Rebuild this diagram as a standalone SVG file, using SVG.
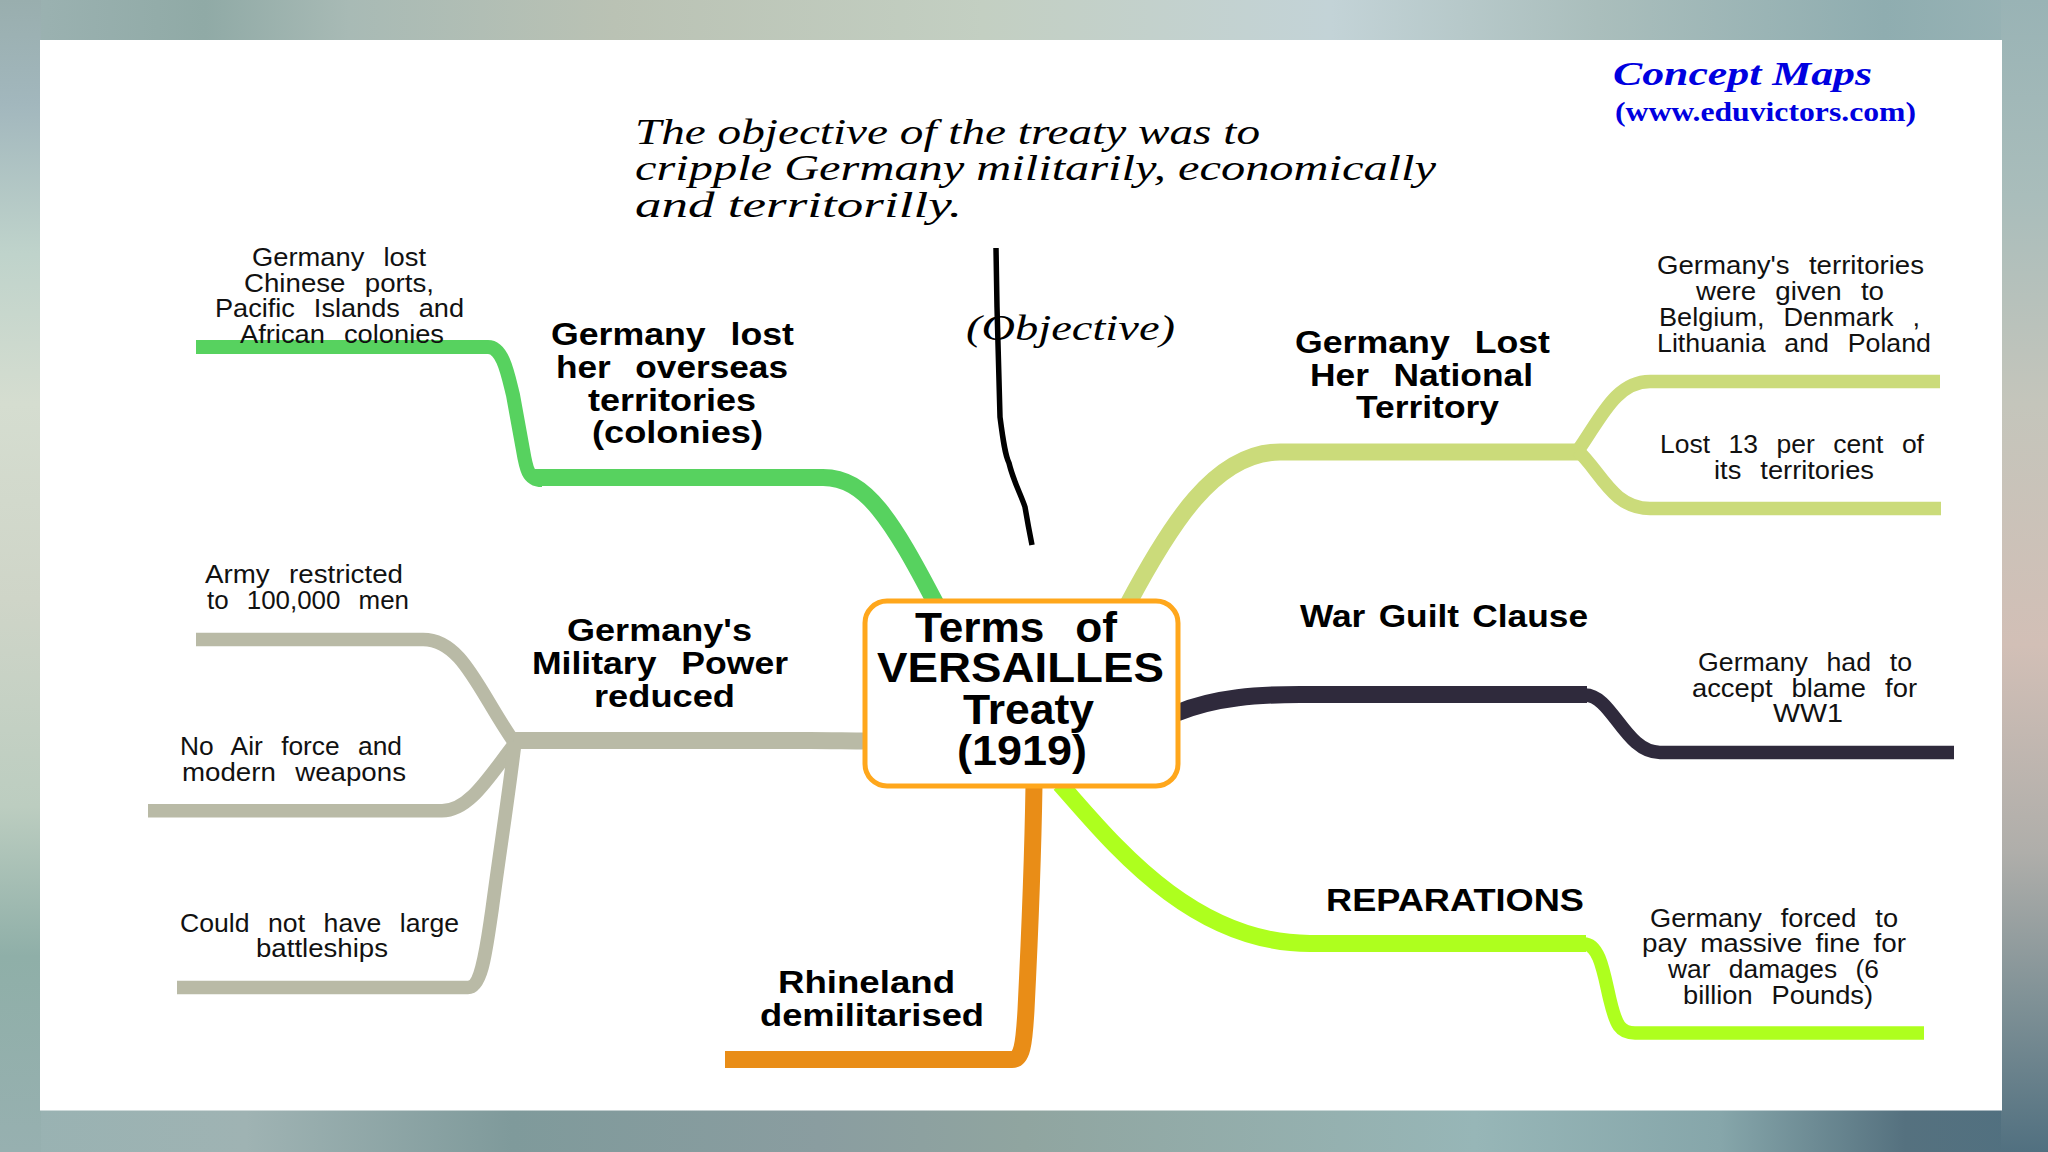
<svg xmlns="http://www.w3.org/2000/svg" width="2048" height="1152" viewBox="0 0 2048 1152">
<style>
text{fill:#111;font-family:"Liberation Sans",Arial,sans-serif;word-spacing:.42em}
.s{font-size:25px}
.m{font-size:32px;font-weight:700;fill:#000}
.c{font-size:43px;font-weight:700;fill:#000}
.h{font-family:"Liberation Serif","Times New Roman",serif;font-style:italic;font-size:36px;fill:#000;word-spacing:0}
.b{font-family:"Liberation Serif","Times New Roman",serif;fill:#0000e0;font-weight:700;word-spacing:0}
path{fill:none;stroke-linecap:butt}
.g{stroke:#57d25f}.l{stroke:#cbdb7a}.k{stroke:#b9baa6}.d{stroke:#2f2a3c}.r{stroke:#aeff1e}.o{stroke:#e98d17}
</style>
<defs>
<linearGradient id="bt" x1="0" x2="2048" y1="0" y2="0" gradientUnits="userSpaceOnUse"><stop offset="0" stop-color="#9db3b3"/><stop offset=".1" stop-color="#90aaa6"/><stop offset=".17" stop-color="#a8bab5"/><stop offset=".3" stop-color="#bac2b4"/><stop offset=".48" stop-color="#c3cfc2"/><stop offset=".65" stop-color="#c3d3d7"/><stop offset=".78" stop-color="#aabebc"/><stop offset=".92" stop-color="#8fadb0"/><stop offset="1" stop-color="#9ab4b6"/></linearGradient>
<linearGradient id="bb" x1="0" x2="2048" y1="0" y2="0" gradientUnits="userSpaceOnUse"><stop offset="0" stop-color="#98b2b2"/><stop offset=".12" stop-color="#9fb3b3"/><stop offset=".25" stop-color="#7f9a9b"/><stop offset=".4" stop-color="#8a9da0"/><stop offset=".5" stop-color="#90a5a0"/><stop offset=".72" stop-color="#97b6b7"/><stop offset=".84" stop-color="#86a6aa"/><stop offset=".93" stop-color="#55717f"/><stop offset="1" stop-color="#507080"/></linearGradient>
<linearGradient id="bl" x1="0" x2="0" y1="0" y2="1152" gradientUnits="userSpaceOnUse"><stop offset="0" stop-color="#99aeae"/><stop offset=".09" stop-color="#a2b7bd"/><stop offset=".22" stop-color="#bfd3cb"/><stop offset=".35" stop-color="#d5ddd0"/><stop offset=".52" stop-color="#cfd5c8"/><stop offset=".7" stop-color="#bccdc0"/><stop offset=".83" stop-color="#8fafa8"/><stop offset="1" stop-color="#97b0b0"/></linearGradient>
<linearGradient id="br" x1="0" x2="0" y1="0" y2="1152" gradientUnits="userSpaceOnUse"><stop offset="0" stop-color="#99b3b5"/><stop offset=".17" stop-color="#a9bdbb"/><stop offset=".35" stop-color="#c4c5bb"/><stop offset=".56" stop-color="#d2bfb6"/><stop offset=".74" stop-color="#afaeaa"/><stop offset=".87" stop-color="#7f9196"/><stop offset="1" stop-color="#517080"/></linearGradient>
</defs>
<g id="background">
<rect x="0" y="0" width="2048" height="41" fill="url(#bt)"/>
<rect x="0" y="1110" width="2048" height="42" fill="url(#bb)"/>
<rect x="0" y="0" width="41" height="1152" fill="url(#bl)"/>
<rect x="2001" y="0" width="47" height="1152" fill="url(#br)"/>
<rect x="40" y="40" width="1962" height="1070.500" fill="#fff"/>
</g>
<g id="connectors">
<path class="g" stroke-width="14" d="M196 347H488C503 347 508 375 513 395L523 450C526 468 528 480 542 480"/>
<path class="g" stroke-width="17" d="M535 477.500H823C866 477.500 892 520 936 604"/>
<path class="k" stroke-width="13.500" d="M196 639.500H423C462 639.500 478 690 514 742"/>
<path class="k" stroke-width="13.500" d="M148 810.700H442C470 810.700 490 775 516 742"/>
<path class="k" stroke-width="13.500" d="M177 987.500H468C482 987.500 486 950 492 910C500 850 508 800 515 742"/>
<path class="k" stroke-width="17" d="M514 740.500H810C830 740.500 850 741 866 741"/>
<path class="o" stroke-width="17" d="M725 1059.500H1012C1022 1059.500 1024 1045 1026 1010C1029 950 1033 850 1034 785"/>
<path class="l" stroke-width="17" d="M1128 604C1170 525 1215 452 1280 452H1580"/>
<path class="l" stroke-width="13.500" d="M1577 452C1600 420 1615 381.500 1650 381.500H1940"/>
<path class="l" stroke-width="13.500" d="M1577 450C1600 470 1612 508.500 1650 508.500H1941"/>
<path class="d" stroke-width="17" d="M1177 713C1215 697 1260 694.500 1300 694.500H1587"/>
<path class="d" stroke-width="13.500" d="M1585 695C1612 695 1625 752.500 1660 752.500H1954"/>
<path class="r" stroke-width="17" d="M1060 784C1110 840 1190 943.500 1310 943.500H1586"/>
<path class="r" stroke-width="13.500" d="M1584 944C1600 944 1604 975 1610 1000C1616 1025 1620 1033 1635 1033H1924"/>
<path id="pen-stroke" stroke="#000" stroke-width="5.500" stroke-linejoin="round" d="M996 248L997 307C998 350 999 390 1000 417C1003 440 1005 455 1009 463C1013 480 1021 495 1025 507C1028 525 1030 535 1032 545"/>
</g>
<g id="objective-note">
<text class="h" x="635" y="144" textLength="625" lengthAdjust="spacingAndGlyphs">The objective of the treaty was to</text>
<text class="h" x="635" y="180" textLength="801" lengthAdjust="spacingAndGlyphs">cripple Germany militarily, economically</text>
<text class="h" x="635" y="217" textLength="327" lengthAdjust="spacingAndGlyphs">and territorilly.</text>
</g>
<g id="objective-label"><text class="h" x="966" y="340" textLength="209" lengthAdjust="spacingAndGlyphs">(Objective)</text></g>
<g id="brand">
<text class="b" font-style="italic" font-size="34" x="1613" y="85" textLength="259" lengthAdjust="spacingAndGlyphs">Concept Maps</text>
<text class="b" font-size="27" x="1615" y="121" textLength="301" lengthAdjust="spacingAndGlyphs">(www.eduvictors.com)</text>
</g>
<g id="center-node">
<rect x="865" y="601" width="313" height="185" rx="22" fill="#fff" stroke="#ffa71c" stroke-width="5"/>
<text class="c" x="915" y="642" textLength="202" lengthAdjust="spacingAndGlyphs">Terms of</text>
<text class="c" x="877" y="682" textLength="287" lengthAdjust="spacingAndGlyphs">VERSAILLES</text>
<text class="c" x="963" y="724" textLength="131" lengthAdjust="spacingAndGlyphs">Treaty</text>
<text class="c" x="957" y="765" textLength="130" lengthAdjust="spacingAndGlyphs">(1919)</text>
</g>
<g id="overseas">
<text class="m" x="551" y="345" textLength="243" lengthAdjust="spacingAndGlyphs">Germany lost</text>
<text class="m" x="556" y="378" textLength="232" lengthAdjust="spacingAndGlyphs">her overseas</text>
<text class="m" x="588" y="411" textLength="168" lengthAdjust="spacingAndGlyphs">territories</text>
<text class="m" x="592" y="443" textLength="171" lengthAdjust="spacingAndGlyphs">(colonies)</text>
</g>
<g id="overseas-detail">
<text class="s" x="252" y="266" textLength="174" lengthAdjust="spacingAndGlyphs">Germany lost</text>
<text class="s" x="244" y="292" textLength="190" lengthAdjust="spacingAndGlyphs">Chinese ports,</text>
<text class="s" x="215" y="317" textLength="249" lengthAdjust="spacingAndGlyphs">Pacific Islands and</text>
<text class="s" x="240" y="343" textLength="204" lengthAdjust="spacingAndGlyphs">African colonies</text>
</g>
<g id="military">
<text class="m" x="567" y="641" textLength="185" lengthAdjust="spacingAndGlyphs">Germany's</text>
<text class="m" x="532" y="674" textLength="256" lengthAdjust="spacingAndGlyphs">Military Power</text>
<text class="m" x="594" y="707" textLength="141" lengthAdjust="spacingAndGlyphs">reduced</text>
</g>
<g id="military-army">
<text class="s" x="205" y="583" textLength="198" lengthAdjust="spacingAndGlyphs">Army restricted</text>
<text class="s" x="207" y="609" textLength="202" lengthAdjust="spacingAndGlyphs">to 100,000 men</text>
</g>
<g id="military-air">
<text class="s" x="180" y="755" textLength="222" lengthAdjust="spacingAndGlyphs">No Air force and</text>
<text class="s" x="182" y="781" textLength="224" lengthAdjust="spacingAndGlyphs">modern weapons</text>
</g>
<g id="military-ships">
<text class="s" x="180" y="932" textLength="279" lengthAdjust="spacingAndGlyphs">Could not have large</text>
<text class="s" x="256" y="957" textLength="132" lengthAdjust="spacingAndGlyphs">battleships</text>
</g>
<g id="rhineland">
<text class="m" x="778" y="993" textLength="177" lengthAdjust="spacingAndGlyphs">Rhineland</text>
<text class="m" x="760" y="1026" textLength="224" lengthAdjust="spacingAndGlyphs">demilitarised</text>
</g>
<g id="national-territory">
<text class="m" x="1295" y="353" textLength="255" lengthAdjust="spacingAndGlyphs">Germany Lost</text>
<text class="m" x="1310" y="386" textLength="223" lengthAdjust="spacingAndGlyphs">Her National</text>
<text class="m" x="1356" y="418" textLength="143" lengthAdjust="spacingAndGlyphs">Territory</text>
</g>
<g id="territory-given">
<text class="s" x="1657" y="274" textLength="267" lengthAdjust="spacingAndGlyphs">Germany's territories</text>
<text class="s" x="1696" y="300" textLength="188" lengthAdjust="spacingAndGlyphs">were given to</text>
<text class="s" x="1659" y="326" textLength="261" lengthAdjust="spacingAndGlyphs">Belgium, Denmark ,</text>
<text class="s" x="1657" y="352" textLength="274" lengthAdjust="spacingAndGlyphs">Lithuania and Poland</text>
</g>
<g id="territory-percent">
<text class="s" x="1660" y="453" textLength="264" lengthAdjust="spacingAndGlyphs">Lost 13 per cent of</text>
<text class="s" x="1714" y="479" textLength="160" lengthAdjust="spacingAndGlyphs">its territories</text>
</g>
<g id="war-guilt"><text class="m" x="1300" y="627" textLength="288" lengthAdjust="spacingAndGlyphs" style="word-spacing:.1em">War Guilt Clause</text></g>
<g id="war-guilt-detail">
<text class="s" x="1698" y="671" textLength="214" lengthAdjust="spacingAndGlyphs">Germany had to</text>
<text class="s" x="1692" y="697" textLength="225" lengthAdjust="spacingAndGlyphs">accept blame for</text>
<text class="s" x="1773" y="722" textLength="70" lengthAdjust="spacingAndGlyphs">WW1</text>
</g>
<g id="reparations"><text class="m" x="1326" y="911" textLength="258" lengthAdjust="spacingAndGlyphs">REPARATIONS</text></g>
<g id="reparations-detail">
<text class="s" x="1650" y="927" textLength="248" lengthAdjust="spacingAndGlyphs">Germany forced to</text>
<text class="s" x="1642" y="952" textLength="264" lengthAdjust="spacingAndGlyphs" style="word-spacing:.2em">pay massive fine for</text>
<text class="s" x="1668" y="978" textLength="211" lengthAdjust="spacingAndGlyphs">war damages (6</text>
<text class="s" x="1683" y="1004" textLength="190" lengthAdjust="spacingAndGlyphs">billion Pounds)</text>
</g>
</svg>
